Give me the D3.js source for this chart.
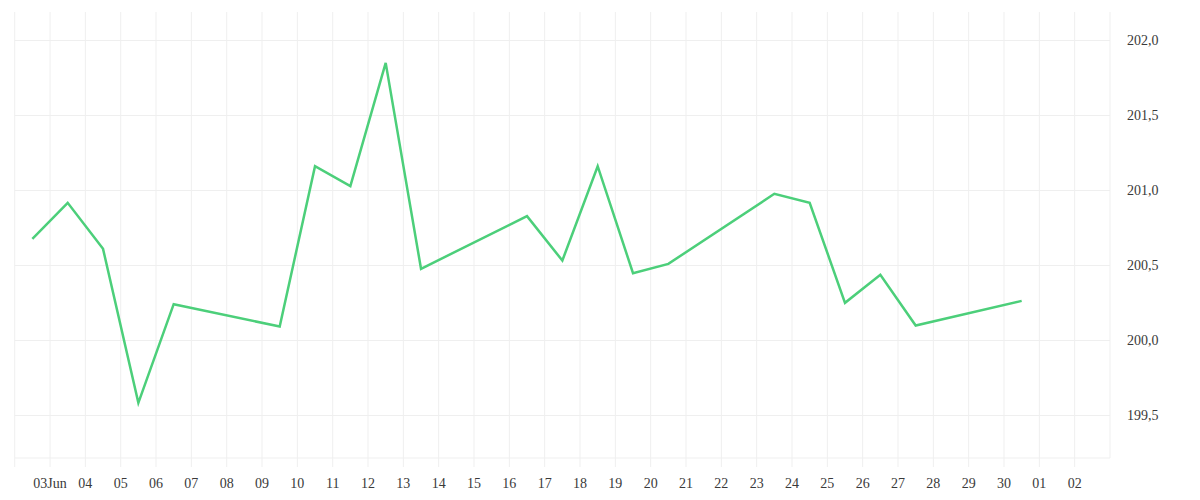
<!DOCTYPE html>
<html>
<head>
<meta charset="utf-8">
<script src="https://cdn.jsdelivr.net/npm/d3@7"></script>
<style>
  html, body { margin: 0; padding: 0; background: #fff; }
  svg { display: block; }
  text { font-family: "Liberation Serif", "DejaVu Serif", serif; font-size: 14px; fill: #3a3a3a; }
</style>
</head>
<body>
<svg id="chart" width="1200" height="500"></svg>
<script>
// ---- data ----
const pointDays = [2, 3, 4, 5, 6, 9, 10, 11, 12, 13, 16, 17, 18, 19, 20, 23, 24, 25, 26, 27, 30]; // June, at 12:00
const values = [200.677, 200.918, 200.611, 199.584, 200.242, 200.093, 201.162, 201.029, 201.851, 200.478,
                200.829, 200.533, 201.162, 200.449, 200.511, 200.978, 200.918, 200.251, 200.438, 200.100, 200.264];
const tickLabels = ["03Jun", "04", "05", "06", "07", "08", "09", "10", "11", "12", "13", "14", "15", "16", "17",
                    "18", "19", "20", "21", "22", "23", "24", "25", "26", "27", "28", "29", "30", "01", "02"];
const yTicks = [199.5, 200.0, 200.5, 201.0, 201.5, 202.0];

// ---- layout ----
const plotLeft = 14.7, plotRight = 1110, plotTop = 12, plotBottom = 458, tickLen = 9;
const svg = d3.select("#chart");

const x = d3.scaleUtc()
  .domain([new Date(Date.UTC(2025, 5, 2)), new Date(Date.UTC(2025, 6, 3))])
  .range([plotLeft, plotRight]);
const y = d3.scaleLinear()
  .domain([199.2167, 202.19])
  .range([plotBottom, plotTop]);

const tickDates = tickLabels.map((_, i) => new Date(Date.UTC(2025, 5, 3 + i)));
const points = pointDays.map((d, i) => ({ date: new Date(Date.UTC(2025, 5, d, 12)), value: values[i] }));

const grid = "#efefef";

// vertical grid lines (day ticks)
svg.append("g").selectAll("line").data(tickDates).join("line")
  .attr("x1", d => x(d)).attr("x2", d => x(d))
  .attr("y1", plotTop).attr("y2", plotBottom + tickLen)
  .attr("stroke", grid).attr("stroke-width", 1);

// plot borders left / right
[x.domain()[0], x.domain()[1]].forEach((d, i) => {
  svg.append("line")
    .attr("x1", x(d)).attr("x2", x(d))
    .attr("y1", plotTop).attr("y2", i === 0 ? plotBottom + tickLen : plotBottom)
    .attr("stroke", grid).attr("stroke-width", 1);
});

// horizontal grid lines
svg.append("g").selectAll("line").data(yTicks).join("line")
  .attr("x1", plotLeft).attr("x2", plotRight)
  .attr("y1", d => y(d)).attr("y2", d => y(d))
  .attr("stroke", grid).attr("stroke-width", 1);

// bottom axis line
svg.append("line")
  .attr("x1", plotLeft).attr("x2", plotRight)
  .attr("y1", plotBottom).attr("y2", plotBottom)
  .attr("stroke", grid).attr("stroke-width", 1);

// x labels
svg.append("g").selectAll("text").data(tickDates).join("text")
  .attr("x", d => x(d)).attr("y", 488)
  .attr("text-anchor", "middle")
  .text((d, i) => tickLabels[i]);

// y labels
const locale = d3.formatLocale({ decimal: ",", thousands: ".", grouping: [3], currency: ["", ""] });
const fmt = locale.format(".1f");
svg.append("g").selectAll("text").data(yTicks).join("text")
  .attr("x", 1127).attr("y", d => y(d))
  .attr("dy", "0.35em")
  .attr("text-anchor", "start")
  .text(d => fmt(d));

// line
const line = d3.line().x(d => x(d.date)).y(d => y(d.value));
svg.append("path").datum(points)
  .attr("d", line)
  .attr("fill", "none")
  .attr("stroke", "#4ccf7a")
  .attr("stroke-width", 2.5)
  .attr("stroke-linejoin", "miter");
</script>
</body>
</html>
